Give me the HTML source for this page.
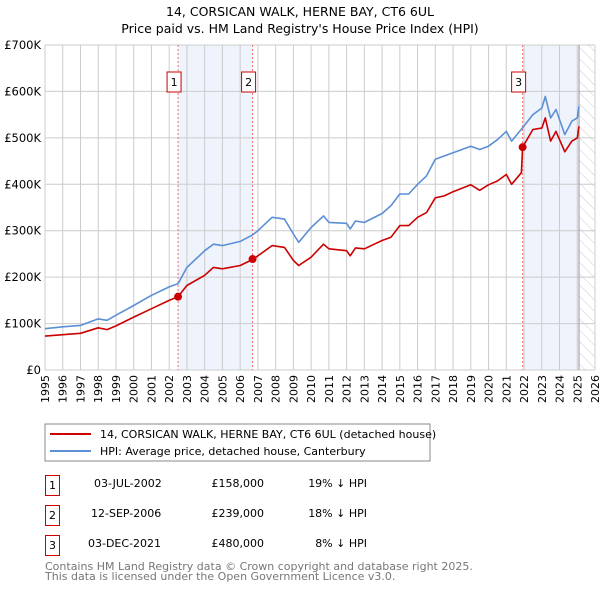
<!DOCTYPE html>
<html><head><meta charset="utf-8"><style>
body{margin:0;background:#fff;font-family:"DejaVu Sans","Liberation Sans",sans-serif;}
svg{display:block}
</style></head><body>
<svg width="600" height="590" xmlns="http://www.w3.org/2000/svg">
<defs><pattern id="hatch" width="8" height="8" patternUnits="userSpaceOnUse" patternTransform="rotate(-45)"><line x1="0" y1="0" x2="0" y2="8" stroke="#ccc" stroke-width="1"/></pattern></defs>
<text x="300" y="16" text-anchor="middle" font-size="12.5">14, CORSICAN WALK, HERNE BAY, CT6 6UL</text>
<text x="300" y="33" text-anchor="middle" font-size="12.5">Price paid vs. HM Land Registry's House Price Index (HPI)</text>
<g id="plot"></g>
<rect x="45" y="424" width="385" height="37" fill="#fff" stroke="#888"/>
<line x1="50" y1="434" x2="91" y2="434" stroke="#cc0000" stroke-width="2"/>
<text x="100" y="438" font-size="11">14, CORSICAN WALK, HERNE BAY, CT6 6UL (detached house)</text>
<line x1="50" y1="451" x2="91" y2="451" stroke="#5b8fd6" stroke-width="2"/>
<text x="100" y="455" font-size="11">HPI: Average price, detached house, Canterbury</text>
<g font-size="11">
<rect x="45.5" y="475.5" width="14" height="20" fill="#fff" stroke="#cc0000"/><text x="52.5" y="489" text-anchor="middle">1</text>
<text x="94" y="487">03-JUL-2002</text><text x="264" y="487" text-anchor="end">£158,000</text><text x="367" y="487" text-anchor="end">19% ↓ HPI</text>
<rect x="45.5" y="505.5" width="14" height="20" fill="#fff" stroke="#cc0000"/><text x="52.5" y="519" text-anchor="middle">2</text>
<text x="91" y="517">12-SEP-2006</text><text x="264" y="517" text-anchor="end">£239,000</text><text x="367" y="517" text-anchor="end">18% ↓ HPI</text>
<rect x="45.5" y="535.5" width="14" height="20" fill="#fff" stroke="#cc0000"/><text x="52.5" y="549" text-anchor="middle">3</text>
<text x="88" y="547">03-DEC-2021</text><text x="264" y="547" text-anchor="end">£480,000</text><text x="367" y="547" text-anchor="end">8% ↓ HPI</text>
</g>
<text x="45" y="570" font-size="11" fill="#777">Contains HM Land Registry data © Crown copyright and database right 2025.</text>
<text x="45" y="580" font-size="11" fill="#777">This data is licensed under the Open Government Licence v3.0.</text>
</svg>
<script>
const hpiYears=[1995,1996,1997,1998,1998.5,1999,2000,2001,2002,2002.5,2003,2004,2004.5,2005,2006,2006.7,2007,2007.8,2008.5,2009,2009.3,2010,2010.7,2011,2012,2012.2,2012.5,2013,2014,2014.5,2015,2015.5,2016,2016.5,2017,2017.5,2018,2019,2019.5,2020,2020.5,2021,2021.3,2021.9,2022.5,2023,2023.2,2023.5,2023.8,2024.3,2024.7,2025,2025.1];
const hpiValues=[89,93,96,110,107,118,139,161,179,186,221,257,271,268,277,291,300,329,325,293,275,307,332,318,316,304,321,318,337,354,379,379,400,418,454,461,468,482,475,482,496,514,493,521,550,564,589,543,561,507,536,543,568];
const priceYears=[1995,1997,1998,1998.5,1999,2000,2001,2002,2002.5,2003,2004,2004.5,2005,2006,2006.7,2007,2007.8,2008.5,2009,2009.3,2010,2010.7,2011,2012,2012.2,2012.5,2013,2014,2014.5,2015,2015.5,2016,2016.5,2017,2017.5,2018,2019,2019.5,2020,2020.5,2021,2021.3,2021.85,2021.92,2022.5,2023,2023.2,2023.5,2023.8,2024.3,2024.7,2025,2025.1];
const priceValues=[73,79,91,87,95,114,132,150,158,182,204,221,218,225,238,246,268,264,236,225,243,271,261,257,246,263,261,279,286,311,311,329,339,371,375,384,399,387,399,407,421,400,425,480,518,521,543,493,514,470,493,500,525];
const saleLabels=["1","2","3"];
const saleYears=[2002.5,2006.7,2021.92];
const saleValues=[158,239,480];
const yTicks=[0,100,200,300,400,500,600,700];
const yTickLabels=["£0","£100K","£200K","£300K","£400K","£500K","£600K","£700K"];
const xTicks=[];for(let y=1995;y<=2026;y++)xTicks.push(y);
const dataEnd=2025.1;
const X0=45,X1=595,Y0=370,Y1=45;
const sx=y=>X0+(y-1995)/(2026-1995)*(X1-X0);
const sy=v=>Y0-v/700*(Y0-Y1);
const NS="http://www.w3.org/2000/svg";
const g=document.getElementById('plot');
function mk(t,a,p){const e=document.createElementNS(NS,t);for(const k in a)e.setAttribute(k,a[k]);(p||g).appendChild(e);return e;}
let r;
r=mk('rect',{x:sx(saleYears[0]),y:Y1,width:sx(saleYears[1])-sx(saleYears[0]),height:Y0-Y1,fill:'#eef3fc'});


r=mk('rect',{x:sx(saleYears[2]),y:Y1,width:sx(dataEnd)-sx(saleYears[2]),height:Y0-Y1,fill:'#eef3fc'});


r=mk('rect',{x:sx(dataEnd),y:Y1,width:X1-sx(dataEnd),height:Y0-Y1,fill:'url(#hatch)'});


xTicks.forEach(y=>{const l=mk('line',{x1:sx(y),x2:sx(y),y1:Y1,y2:Y0,stroke:'#ccc'});


const t=mk('text',{x:0,y:0,'font-size':11,'text-anchor':'end',transform:`translate(${sx(y)+4},${Y0+5}) rotate(-90)`});t.textContent=y;

});
yTicks.forEach((v,i)=>{const l=mk('line',{x1:X0,x2:X1,y1:sy(v),y2:sy(v),stroke:'#ccc'});


const t=mk('text',{x:X0-4,y:sy(v)+4,'font-size':11.5,'text-anchor':'end'});t.textContent=yTickLabels[i];

});
r=mk('line',{x1:sx(dataEnd),x2:sx(dataEnd),y1:Y1,y2:Y0,stroke:'#999'});


saleYears.forEach((y,i)=>{const l=mk('line',{x1:sx(y),x2:sx(y),y1:Y1,y2:Y0,stroke:'#f07070','stroke-dasharray':'2,2'});

});
function path(xs,vs,col,name){const d=xs.map((y,i)=>(i?'L':'M')+sx(y).toFixed(1)+','+sy(vs[i]).toFixed(1)).join('');
const p=mk('path',{d:d,fill:'none',stroke:col,'stroke-width':1.6,'stroke-linejoin':'round'});

}
path(hpiYears,hpiValues,'#5b8fd6','hpi-line');
path(priceYears,priceValues,'#cc0000','property-price-line');
saleYears.forEach((y,i)=>{const c=mk('circle',{cx:sx(y),cy:sy(saleValues[i]),r:4,fill:'#cc0000'});


const b=mk('rect',{x:sx(y)-11,y:72,width:14,height:20,fill:'#fff',stroke:'#cc0000'});


const t=mk('text',{x:sx(y)-4,y:86,'font-size':11,'text-anchor':'middle'});t.textContent=saleLabels[i];

});
</script>
</body></html>
